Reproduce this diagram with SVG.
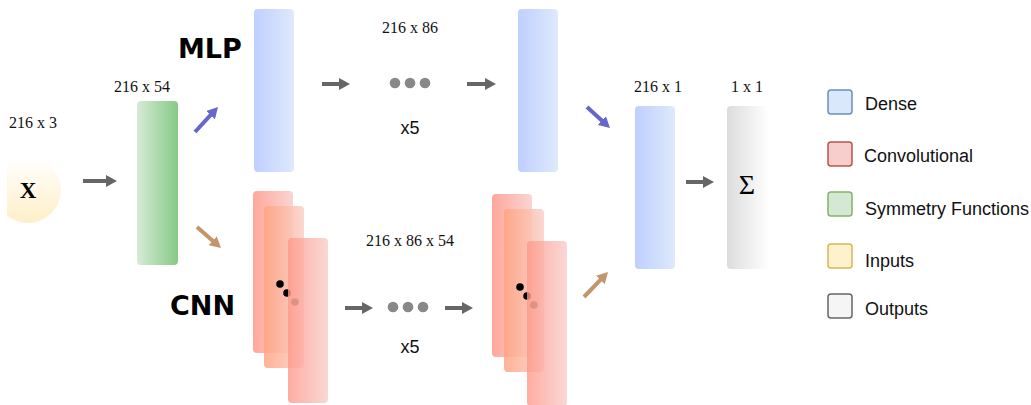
<svg xmlns="http://www.w3.org/2000/svg" width="1031" height="405" viewBox="0 0 1031 405">
<defs>
<style>
.dim{font-family:"Liberation Serif","Times New Roman",serif;font-size:16px;fill:#111;text-anchor:middle}
.big{font-family:"DejaVu Sans",Verdana,sans-serif;font-size:27px;font-weight:bold;fill:#000}
.lg{font-family:"Liberation Sans",Arial,sans-serif;font-size:18px;fill:#111}
.rep{font-family:"Liberation Sans",Arial,sans-serif;font-size:18px;fill:#111;text-anchor:middle}
.ga{stroke:#666;stroke-width:4;fill:none;marker-end:url(#hg)}
.ba{stroke:#6666cc;stroke-width:4;fill:none;marker-end:url(#hb)}
.oa{stroke:#c4956a;stroke-width:4;fill:none;marker-end:url(#ho)}
.dot{fill:#888}
.lbox{stroke-width:1.5}
</style>
<marker id="hg" markerUnits="userSpaceOnUse" markerWidth="11" markerHeight="12" viewBox="0 0 11 12" refX="1" refY="6" orient="auto"><path d="M0,0 L11,6 L0,12 z" fill="#666"/></marker>
<marker id="hb" markerUnits="userSpaceOnUse" markerWidth="11" markerHeight="12" viewBox="0 0 11 12" refX="1" refY="6" orient="auto"><path d="M0,0 L11,6 L0,12 z" fill="#6666cc"/></marker>
<marker id="ho" markerUnits="userSpaceOnUse" markerWidth="11" markerHeight="12" viewBox="0 0 11 12" refX="1" refY="6" orient="auto"><path d="M0,0 L11,6 L0,12 z" fill="#c4956a"/></marker>
<linearGradient id="gBlue" x1="0" y1="0" x2="1" y2="0"><stop offset="0" stop-color="#bfcfff"/><stop offset="1" stop-color="#dee9fb"/></linearGradient>
<linearGradient id="gGreen" x1="0" y1="0" x2="1" y2="0"><stop offset="0" stop-color="#d7ebd7"/><stop offset="1" stop-color="#86c986"/></linearGradient>
<linearGradient id="gGray" x1="0" y1="0" x2="1" y2="0"><stop offset="0" stop-color="#dcdcdc"/><stop offset="1" stop-color="#ffffff"/></linearGradient>
<linearGradient id="gRed" x1="0" y1="0" x2="1" y2="0"><stop offset="0" stop-color="#ff988a"/><stop offset="1" stop-color="#f8cdca"/></linearGradient>
<linearGradient id="gOrange" x1="0" y1="0" x2="1" y2="0"><stop offset="0" stop-color="#ffa482"/><stop offset="1" stop-color="#f9d0c8"/></linearGradient>
<linearGradient id="gYellow" x1="0" y1="0" x2="0" y2="1"><stop offset="0" stop-color="#ffffff"/><stop offset="1" stop-color="#ffefc8"/></linearGradient>
<clipPath id="clipX"><rect x="7" y="140" width="80" height="100"/></clipPath>
</defs>
<rect width="1031" height="405" fill="#fff"/>

<g id="input">
<circle cx="28" cy="190" r="33" fill="url(#gYellow)" clip-path="url(#clipX)"/>
<text x="28" y="198" font-family="Liberation Serif,serif" font-size="23" font-weight="bold" text-anchor="middle" fill="#000">X</text>
<text class="dim" x="33" y="128">216 x 3</text>
</g>

<g id="symmetry">
<rect x="137" y="101" width="41" height="164" rx="4" fill="url(#gGreen)"/>
<text class="dim" x="142" y="92">216 x 54</text>
</g>

<g id="mlp-label"><text class="big" x="178" y="58">MLP</text></g>
<g id="cnn-label"><text class="big" x="170" y="315">CNN</text></g>

<g id="mlp-dense1"><rect x="254" y="9" width="40" height="163" rx="4" fill="url(#gBlue)"/></g>
<g id="mlp-repeat">
<text class="dim" x="410" y="33">216 x 86</text>
<circle class="dot" cx="395" cy="83" r="5.3"/><circle class="dot" cx="410" cy="83" r="5.3"/><circle class="dot" cx="425" cy="83" r="5.3"/>
<text class="rep" x="410" y="134">x5</text>
</g>
<g id="mlp-dense2"><rect x="518" y="9" width="40" height="163" rx="4" fill="url(#gBlue)"/></g>

<g id="cnn-conv1">
<rect x="253" y="191" width="40" height="162" rx="4" fill="url(#gRed)" opacity="0.85"/>
<rect x="264" y="206" width="40" height="162" rx="4" fill="url(#gOrange)" opacity="0.85"/>
<circle cx="280" cy="284" r="3.8" fill="#000"/>
<circle cx="287" cy="293" r="3.8" fill="#000"/>
<circle cx="295" cy="302" r="3.8" fill="#555"/>
<rect x="288" y="238" width="40" height="165" rx="4" fill="url(#gRed)" opacity="0.8"/>
</g>
<g id="cnn-repeat">
<text class="dim" x="410" y="246">216 x 86 x 54</text>
<circle class="dot" cx="393" cy="307" r="5.3"/><circle class="dot" cx="408" cy="307" r="5.3"/><circle class="dot" cx="423" cy="307" r="5.3"/>
<text class="rep" x="410" y="353">x5</text>
</g>
<g id="cnn-conv2">
<rect x="492" y="194" width="40" height="163" rx="4" fill="url(#gRed)" opacity="0.85"/>
<rect x="504" y="209" width="40" height="163" rx="4" fill="url(#gOrange)" opacity="0.85"/>
<circle cx="520" cy="287" r="3.8" fill="#000"/>
<circle cx="527" cy="296" r="3.8" fill="#000"/>
<circle cx="534" cy="305" r="3.8" fill="#555"/>
<rect x="527" y="241" width="40" height="165" rx="4" fill="url(#gRed)" opacity="0.8"/>
</g>

<g id="dense-out">
<rect x="635" y="106" width="40" height="163" rx="4" fill="url(#gBlue)"/>
<text class="dim" x="658" y="92">216 x 1</text>
</g>
<g id="output">
<rect x="727" y="106" width="42" height="163" rx="4" fill="url(#gGray)"/>
<text class="dim" x="747" y="92">1 x 1</text>
<text x="747" y="194" font-family="Liberation Serif,serif" font-size="28" text-anchor="middle" fill="#000">Σ</text>
</g>

<g id="connectors">
<line class="ga" x1="83" y1="181" x2="107" y2="181"/>
<line class="ba" x1="195" y1="132" x2="211.2" y2="114.4"/>
<line class="oa" x1="197" y1="227" x2="213.5" y2="241.4"/>
<line class="ga" x1="322" y1="84" x2="340" y2="84"/>
<line class="ga" x1="467" y1="84" x2="486" y2="84"/>
<line class="ga" x1="345" y1="308" x2="363" y2="308"/>
<line class="ga" x1="445" y1="308" x2="463" y2="308"/>
<line class="ba" x1="587" y1="107" x2="602.6" y2="121.2"/>
<line class="oa" x1="584" y1="297" x2="601.1" y2="279.2"/>
<line class="ga" x1="686" y1="182" x2="704" y2="182"/>
</g>

<g id="legend">
<rect class="lbox" x="828" y="90" width="24" height="24" rx="3" fill="#dae8fc" stroke="#6c8ebf"/>
<text class="lg" x="865" y="110">Dense</text>
<rect class="lbox" x="828" y="142" width="24" height="24" rx="3" fill="#f8cecc" stroke="#b85450"/>
<text class="lg" x="864" y="162">Convolutional</text>
<rect class="lbox" x="828" y="192" width="24" height="24" rx="3" fill="#d5e8d4" stroke="#82b366"/>
<text class="lg" x="865" y="215">Symmetry Functions</text>
<rect class="lbox" x="828" y="244" width="24" height="24" rx="3" fill="#fff2cc" stroke="#d6b656"/>
<text class="lg" x="865" y="267">Inputs</text>
<rect class="lbox" x="828" y="294" width="24" height="24" rx="3" fill="#f5f5f5" stroke="#666666"/>
<text class="lg" x="865" y="315">Outputs</text>
</g>
</svg>
